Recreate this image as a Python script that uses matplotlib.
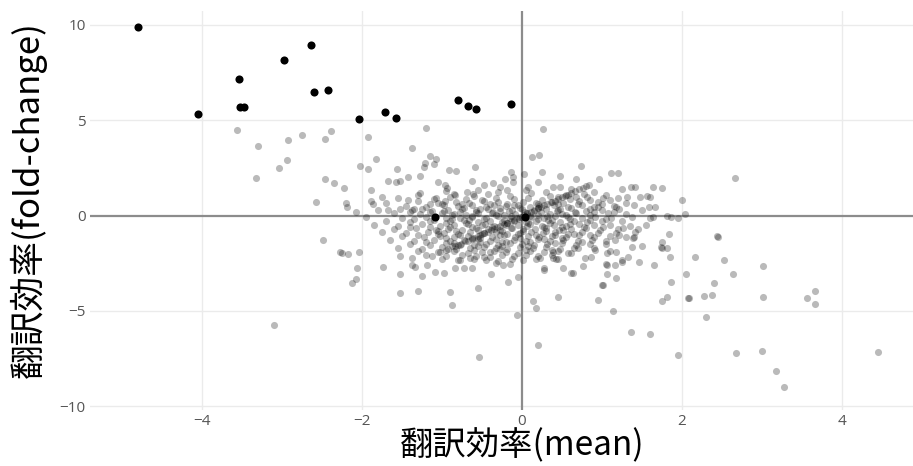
import matplotlib
matplotlib.use("Agg")
import matplotlib.pyplot as plt

# ---------------- data ----------------
# highlighted (black) genes
hi_x = [-4.80, -4.05, -3.54, -3.53, -3.48, -2.98, -2.64, -2.60, -2.43, -2.04,
        -1.71, -1.58, -0.80, -0.68, -0.58, -0.14, 0.04, -1.09]
hi_y = [9.90, 5.33, 7.17, 5.71, 5.71, 8.18, 8.95, 6.48, 6.57, 5.05,
        5.42, 5.13, 6.06, 5.75, 5.59, 5.84, -0.10, -0.08]

# scattered (outer) gray genes
outer_x = [-3.56, -3.30, -2.93, -2.75, -2.39, -2.46, -2.94, -3.04, -3.32, -2.46, -2.35, -2.58, -2.49, -2.28, -3.10,
           2.67, 2.45, 2.44, 2.53, 3.01, 2.64, 2.40, 2.28, 2.38, 3.01, 3.67, 3.57, 3.66, 2.30, 2.68, 3.00, 4.45, 3.18, 3.28,
           1.84, 2.17, 2.05, 1.86, 2.08, 2.09, 1.82, 1.75, 1.60, 1.36, 1.14, 0.95, 0.45, 0.14, 0.18, 0.20, -0.06, -0.54, 1.95,
           -0.55, -0.17, -0.39, -0.05, -0.90, -0.87, 0.28, 1.06, 1.18, 1.00, 1.01, 0.77, 1.46, 1.65, 1.85, 1.50, 1.74, 1.38,
           0.43, 0.45, 0.64, 1.05, 1.25,
           -2.25, -2.18, -2.04, -2.06, -2.07, -2.13, -1.74, -1.53, -1.53, -1.30, -1.25, -1.09, -0.98,
           -1.53, -1.38, -1.38, -1.34, -1.19, -0.80, -0.73, -0.65, -0.63, -0.84, -0.32, -0.23, -0.15, -0.48, -0.40,
           0.28, 1.06, 1.16, 1.25, 0.62, 0.52, 0.39, 0.23, 1.75, 1.81, 1.75, 1.39, 1.40, 1.45, 1.27, 1.22, 1.16, 1.06,
           1.18, 1.10, 1.33, 1.05, 0.87, 0.79, 0.91, 0.70, 0.58, 0.39,
           0.26, 0.13, 0.21, 0.74, 0.03, 0.25, 0.48, 0.68, 0.96, 1.12, 1.20, 0.20, 0.08, 0.39, 0.48, 1.25, 1.37, 1.41,
           1.64, 1.75, 1.48, 1.56, 1.60, 2.00, 1.66, 1.59, 1.31, 1.18, 1.02, 1.10, 0.81, 0.68, 0.95, 0.85, 1.81, 1.87,
           1.95, 2.04, 1.64,
           -1.20, -1.93, -1.38, -1.82, -2.03, -1.92, -1.15, -1.07, -1.21, -1.10, -1.23, -1.56, -0.91, -0.82, -0.59,
           -1.28, -1.42, -1.67, -1.57, -1.53, -2.23, -1.89, -1.05, -0.96, -0.94, -0.62, -0.13, -0.11, -0.21, -1.28,
           -1.75, -1.42, -1.89, -1.86, -2.20, -2.19, -2.07, -1.68, -1.53, -1.38, -1.25, -1.15, -1.07, -0.96, -0.84,
           -0.69, -0.61, -0.48, -0.36, -0.28, -0.19, -0.11]
outer_y = [4.49, 3.63, 3.96, 4.23, 4.42, 4.03, 2.93, 2.48, 1.97, 1.90, 1.69, 0.69, -1.29, -1.90, -5.75,
           1.95, -1.11, -1.08, -2.35, -2.63, -3.07, -3.54, -4.23, -4.19, -4.26, -3.95, -4.33, -4.63, -5.31, -7.20, -7.13, -7.18, -8.16, -9.00,
           -0.97, -2.16, -3.07, -3.46, -4.35, -4.33, -4.26, -4.49, -6.22, -6.10, -5.00, -4.45, -4.29, -4.50, -4.87, -6.80, -5.21, -7.41, -7.29,
           -3.82, -3.51, -3.04, -3.21, -4.00, -4.70, -2.86, -3.09, -3.30, -3.65, -3.62, -2.63, -2.44, -2.58, -2.16, -1.60, -1.67, -1.67,
           -2.30, -2.28, -3.00, -2.56, -2.34,
           -1.95, -2.02, -1.92, -2.77, -3.35, -3.56, -2.69, -3.07, -4.08, -3.96, -3.18, -2.95, -3.00,
           -2.14, -2.25, -2.60, -2.69, -2.60, -2.34, -2.77, -2.25, -2.77, -2.74, -2.51, -2.60, -2.56, -2.16, -1.90,
           -2.77, -2.60, -2.60, -2.43, -3.03, -2.77, -2.25, -2.21, -1.37, -1.72, -1.72, -1.16, -1.14, -0.71, -0.67, -1.02, -1.29, -1.98,
           -1.90, -1.86, -2.16, -1.51, -2.16, -2.25, -1.81, -1.72, -1.98, -1.90,
           4.52, 3.09, 3.18, 2.60, 2.18, 2.27, 2.07, 1.92, 1.90, 2.25, 2.21, 1.77, 1.51, 1.51, 1.48, 1.41, 1.51, 1.48,
           1.51, 1.46, 0.96, 1.02, 0.96, 0.81, 0.46, 0.43, 0.96, 0.46, 0.90, 0.81, 0.96, 0.96, 0.46, 0.36, -0.02, -0.10,
           -0.15, 0.08, -0.10,
           4.61, 4.10, 3.56, 2.95, 2.60, 2.44, 3.12, 2.95, 2.77, 2.69, 2.53, 2.42, 2.39, 2.34, 2.56,
           2.07, 2.04, 1.81, 1.76, 1.81, 1.43, 1.34, 1.76, 1.60, 1.43, 1.83, 2.28, 2.04, 1.90, 1.20,
           0.96, 0.81, 0.78, 0.60, 0.67, 0.46, 0.20, 0.29, 0.36, 0.29, 0.33, 0.60, 0.90, 0.78, 1.08,
           1.25, 1.13, 1.60, 1.69, 1.51, 1.34, 1.77]

# dense core of gray genes
core_x = [-0.95, -0.55, -0.30, 0.05, 0.30, 0.62, 0.90,
          -1.30, -0.85, -0.60, -0.42, -0.15, 0.12, 0.35, 0.55, 0.78, 1.05,
          -1.55, -1.10, -0.90, -0.70, -0.50, -0.32, -0.10, 0.08, 0.25, 0.45, 0.60, 0.85, 1.20,
          -1.70, -1.30, -1.05, -0.82, -0.66, -0.48, -0.30, -0.18, 0.02, 0.18, 0.38, 0.52, 0.72, 0.95, 1.30,
          -1.45, -1.20, -0.98, -0.80, -0.62, -0.45, -0.35, -0.20, -0.05, 0.10, 0.22, 0.40, 0.58, 0.75, 0.90, 1.15, 1.40,
          -1.80, -1.35, -1.12, -0.92, -0.75, -0.58, -0.42, -0.28, -0.12, 0.00, 0.15, 0.30, 0.45, 0.62, 0.80, 1.00, 1.22, 1.50,
          -1.60, -1.28, -1.00, -0.85, -0.70, -0.55, -0.38, -0.22, -0.08, 0.06, 0.20, 0.35, 0.50, 0.68, 0.85, 1.08, 1.30,
          -1.95, -1.50, -1.20, -0.95, -0.78, -0.62, -0.45, -0.30, -0.15, 0.00, 0.12, 0.28, 0.42, 0.58, 0.75, 0.92, 1.12, 1.38, 1.60,
          -1.70, -1.40, -1.15, -0.90, -0.72, -0.55, -0.40, -0.25, -0.10, 0.05, 0.18, 0.33, 0.48, 0.65, 0.82, 1.00, 1.25,
          -1.85, -1.55, -1.25, -1.02, -0.85, -0.68, -0.50, -0.35, -0.20, -0.05, 0.10, 0.25, 0.40, 0.55, 0.72, 0.90, 1.10, 1.35, 1.55,
          -1.60, -1.32, -1.08, -0.92, -0.75, -0.58, -0.42, -0.28, -0.12, 0.02, 0.16, 0.30, 0.46, 0.62, 0.80, 0.98, 1.20,
          -1.75, -1.45, -1.18, -0.98, -0.80, -0.65, -0.48, -0.32, -0.18, -0.02, 0.12, 0.27, 0.42, 0.58, 0.75, 0.95, 1.18, 1.42,
          -1.50, -1.22, -1.02, -0.85, -0.68, -0.52, -0.38, -0.22, -0.08, 0.08, 0.22, 0.38, 0.55, 0.72, 0.90, 1.10, 1.30,
          -1.65, -1.35, -1.10, -0.90, -0.72, -0.55, -0.40, -0.25, -0.10, 0.05, 0.20, 0.35, 0.52, 0.70, 0.88, 1.05,
          -1.40, -1.15, -0.95, -0.78, -0.60, -0.45, -0.30, -0.15, 0.00, 0.15, 0.32, 0.50, 0.68, 0.85,
          -1.55, -1.25, -1.00, -0.82, -0.65, -0.48, -0.32, -0.18, -0.02, 0.14, 0.30, 0.48, 0.65, 0.90,
          -1.30, -1.05, -0.85, -0.68, -0.50, -0.35, -0.20, -0.05, 0.10, 0.28, 0.45, 0.62,
          -1.20, -0.95, -0.75, -0.58, -0.40, -0.25, -0.10, 0.05, 0.20, 0.38,
          -1.00, -0.78, -0.60, -0.45, -0.30, -0.12, 0.02, 0.18,
          -0.72, -0.52, -0.27, -0.02, 0.20, 0.48,
          -0.88, -0.62, -0.32, -0.13, 0.10, 0.32, 0.55,
          -0.95, -0.70, -0.46, -0.18, 0.08, 0.35, 0.60,
          -1.05, -0.82, -0.55, -0.25, 0.02, 0.30, 0.52,
          -0.95, -0.62, -0.32, -0.02, 0.28, 0.50,
          -0.88, -0.55, -0.25, 0.08]
core_y = [1.27, 1.36, 1.22, 1.33, 1.25, 1.38, 1.21,
          1.08, 1.15, 1.02, 1.12, 1.05, 1.17, 1.03, 1.10, 1.14, 1.06,
          0.92, 0.85, 0.95, 0.88, 0.83, 0.94, 0.87, 0.91, 0.84, 0.96, 0.89, 0.82, 0.93,
          0.68, 0.74, 0.66, 0.72, 0.64, 0.75, 0.69, 0.63, 0.73, 0.67, 0.71, 0.65, 0.76, 0.70, 0.66,
          0.52, 0.46, 0.55, 0.48, 0.53, 0.44, 0.57, 0.49, 0.54, 0.45, 0.51, 0.56, 0.47, 0.53, 0.43, 0.50, 0.55,
          0.28, 0.34, 0.25, 0.31, 0.36, 0.27, 0.33, 0.24, 0.30, 0.35, 0.26, 0.32, 0.29, 0.37, 0.25, 0.31, 0.34, 0.27,
          0.12, 0.06, 0.14, 0.08, 0.03, 0.11, 0.15, 0.05, 0.09, 0.13, 0.04, 0.10, 0.07, 0.15, 0.02, 0.12, 0.08,
          -0.08, -0.13, -0.05, -0.11, -0.15, -0.07, -0.12, -0.04, -0.14, -0.09, -0.06, -0.12, -0.03, -0.10, -0.15, -0.07, -0.11, -0.05, -0.13,
          -0.28, -0.34, -0.26, -0.31, -0.25, -0.35, -0.29, -0.33, -0.27, -0.36, -0.30, -0.24, -0.32, -0.28, -0.35, -0.26, -0.31,
          -0.48, -0.53, -0.46, -0.55, -0.50, -0.44, -0.52, -0.57, -0.47, -0.51, -0.45, -0.54, -0.49, -0.56, -0.46, -0.52, -0.48, -0.55, -0.50,
          -0.72, -0.66, -0.74, -0.68, -0.75, -0.65, -0.71, -0.77, -0.67, -0.73, -0.69, -0.64, -0.76, -0.70, -0.66, -0.74, -0.68,
          -0.88, -0.94, -0.86, -0.92, -0.96, -0.85, -0.91, -0.87, -0.95, -0.89, -0.84, -0.93, -0.88, -0.97, -0.86, -0.90, -0.94, -0.87,
          -1.08, -1.14, -1.05, -1.12, -1.07, -1.16, -1.10, -1.04, -1.13, -1.09, -1.15, -1.06, -1.11, -1.03, -1.14, -1.08, -1.12,
          -1.28, -1.33, -1.26, -1.35, -1.29, -1.24, -1.32, -1.37, -1.27, -1.31, -1.25, -1.34, -1.30, -1.36, -1.27, -1.32,
          -1.48, -1.54, -1.46, -1.52, -1.55, -1.47, -1.53, -1.45, -1.51, -1.56, -1.49, -1.44, -1.53, -1.50,
          -1.68, -1.73, -1.66, -1.75, -1.70, -1.64, -1.72, -1.77, -1.67, -1.71, -1.65, -1.74, -1.69, -1.72,
          -1.88, -1.93, -1.86, -1.95, -1.90, -1.84, -1.92, -1.97, -1.87, -1.91, -1.85, -1.94,
          -2.08, -2.13, -2.06, -2.12, -2.15, -2.07, -2.11, -2.05, -2.14, -2.09,
          -2.28, -2.34, -2.26, -2.32, -2.37, -2.29, -2.33, -2.27,
          0.40, 0.36, 0.42, 0.38, 0.41, 0.35,
          0.01, -0.02, 0.02, -0.01, 0.00, -0.03, 0.03,
          -0.40, -0.38, -0.42, -0.39, -0.41, -0.37, -0.43,
          -0.80, -0.82, -0.78, -0.81, -0.79, -0.83, -0.77,
          -1.20, -1.18, -1.22, -1.19, -1.21, -1.17,
          -1.60, -1.62, -1.58, -1.61]

# extra genes filling the centre of the cloud
core2_x = [-1.00, -0.75, -0.40, -0.10, 0.20, 0.45, 0.70, 1.00,
           -1.40, -1.15, -0.98, -0.78, -0.58, -0.36, -0.16, 0.04, 0.24, 0.44, 0.66, 0.90, 1.15,
           -1.35, -1.10, -0.88, -0.66, -0.48, -0.22, -0.04, 0.20, 0.38, 0.60, 0.85, 1.05,
           -1.40, -1.15, -0.90, -0.62, -0.38, -0.14, 0.06, 0.28, 0.50, 0.78, 1.02,
           -1.30, -1.05, -0.78, -0.50, -0.28, -0.05, 0.18, 0.42, 0.65, 0.85,
           -1.20, -0.85, -0.52, -0.20, 0.10, 0.42, 0.75,
           -0.95, -0.60, -0.28, 0.05, 0.38]
core2_y = [0.60, 0.58, 0.62, 0.57, 0.61, 0.59, 0.63, 0.58,
           0.20, 0.18, 0.22, 0.19, 0.21, 0.17, 0.23, 0.20, 0.18, 0.22, 0.19, 0.21, 0.17,
           -0.20, -0.22, -0.18, -0.21, -0.19, -0.23, -0.17, -0.20, -0.22, -0.18, -0.21, -0.19,
           -0.60, -0.62, -0.58, -0.61, -0.59, -0.63, -0.57, -0.60, -0.62, -0.58, -0.61,
           -1.00, -0.98, -1.02, -0.99, -1.01, -0.97, -1.03, -1.00, -0.98, -1.02,
           -1.40, -1.42, -1.38, -1.41, -1.39, -1.43, -1.37,
           -1.80, -1.82, -1.78, -1.81, -1.79]

# genes lying on a diagonal streak through the origin
diag_x = [-1.12, -1.02, -0.93, -0.84, -0.76, -0.68, -0.60, -0.52, -0.43, -0.35, -0.27, -0.18,
          -0.10, -0.02, 0.07, 0.15, 0.24, 0.32, 0.41, 0.50, 0.58, 0.67, 0.76, 0.84,
          -0.80, -0.71, -0.63, -0.55, -0.47, -0.39, -0.31, -0.22, -0.14, -0.06,
          0.03, 0.11, 0.20, 0.28, 0.37, 0.45, 0.54, 0.62, 0.71, 0.80]
diag_y = [-2.10, -1.93, -1.78, -1.62, -1.47, -1.31, -1.17, -1.01, -0.85, -0.70, -0.54, -0.37,
          -0.22, -0.05, 0.12, 0.27, 0.45, 0.60, 0.78, 0.95, 1.10, 1.28, 1.45, 1.62,
          -1.52, -1.36, -1.22, -1.06, -0.90, -0.75, -0.60, -0.43, -0.27, -0.12,
          0.05, 0.20, 0.38, 0.53, 0.70, 0.87, 1.03, 1.20, 1.37, 1.55]

x_ticks = [-4, -2, 0, 2, 4]
y_ticks = [-10, -5, 0, 5, 10]
x_label = "翻訳効率(mean)"
y_label = "翻訳効率(fold-change)"

# ---------------- plot ----------------
W, H = 913, 466
fig = plt.figure(figsize=(W / 100, H / 100), dpi=100)
ax = fig.add_axes([90 / W, 1 - 410 / H, (W - 90) / W, (410 - 11) / H])

ax.set_xlim(-5.4, 4.89)
ax.set_ylim(-10.2, 10.73)

for t in x_ticks:
    if t != 0:
        ax.axvline(t, color="#ebebeb", lw=1.0, zorder=0)
for t in y_ticks:
    if t != 0:
        ax.axhline(t, color="#ebebeb", lw=1.0, zorder=0)
ax.axvline(0, color="#8c8c8c", lw=1.6, zorder=1)
ax.axhline(0, color="#8c8c8c", lw=1.6, zorder=1)

gray_kw = dict(s=26, color="black", alpha=0.27, linewidths=0, zorder=2)
ax.scatter(outer_x, outer_y, **gray_kw)
ax.scatter(core_x, core_y, **gray_kw)
ax.scatter(core2_x, core2_y, **gray_kw)
ax.scatter(diag_x, diag_y, **gray_kw)
ax.scatter(hi_x, hi_y, s=34, color="black", linewidths=0, zorder=3)

ax.set_xticks(x_ticks)
ax.set_yticks(y_ticks)
ax.set_xticklabels([str(t).replace("-", "\u2212") for t in x_ticks],
                   fontfamily="Open Sans", fontsize=11, color="#555555")
ax.set_yticklabels([str(t).replace("-", "\u2212") for t in y_ticks],
                   fontfamily="Open Sans", fontsize=11, color="#555555")
ax.tick_params(axis="both", length=0)
ax.tick_params(axis="x", pad=3)
ax.tick_params(axis="y", pad=3)
for sp in ax.spines.values():
    sp.set_visible(False)

fam = ["Noto Sans CJK JP", "DejaVu Sans"]
fig.text(522 / W, 1 - 446 / H, x_label, family=fam, fontsize=24,
         ha="center", va="center", color="black")
fig.text(28 / W, 1 - 200 / H, y_label, family=fam, fontsize=25,
         ha="center", va="center", rotation=90, color="black")

fig.savefig("out.png", dpi=100)
